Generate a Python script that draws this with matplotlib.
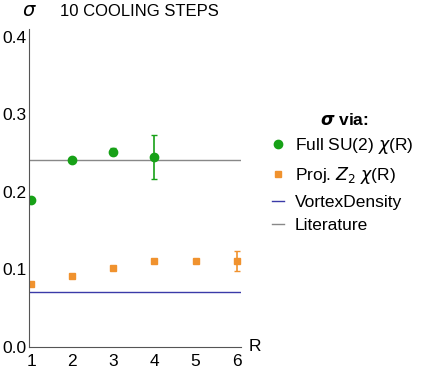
import numpy as np
import matplotlib.pyplot as plt
from matplotlib.lines import Line2D

plt.rcParams['font.family'] = ['Liberation Sans', 'DejaVu Sans']
plt.rcParams['mathtext.fontset'] = 'dejavusans'

# data
R_full = [1, 2, 3, 4]
sigma_full = [0.190, 0.241, 0.252, 0.245]
err_full = [0.002, 0.002, 0.005, 0.028]

R_proj = [1, 2, 3, 4, 5, 6]
sigma_proj = [0.081, 0.092, 0.102, 0.111, 0.111, 0.111]
err_proj = [0.001, 0.001, 0.001, 0.001, 0.003, 0.013]

vortex_density = 0.071
literature = 0.241

fig = plt.figure(figsize=(4.22, 3.73), dpi=100)
ax = fig.add_axes([0.0687, 0.0697, 0.502, 0.8525])

green = '#17a117'
orange = '#f0922e'
blue = '#3a3aa8'
gray = '#888888'

ax.errorbar(R_full, sigma_full, yerr=err_full, fmt='o', color=green, ms=6,
            elinewidth=1.2, capsize=2.5)
ax.errorbar(R_proj, sigma_proj, yerr=err_proj, fmt='s', color=orange, ms=4,
            elinewidth=1.2, capsize=2.5)
ax.axhline(vortex_density, color=blue, lw=1)
ax.axhline(literature, color=gray, lw=1)

ax.set_xlim(0.95, 6.1)
ax.set_ylim(0, 0.41)
ax.set_xticks([1, 2, 3, 4, 5, 6])
ax.set_yticks([0.0, 0.1, 0.2, 0.3, 0.4])
ax.set_yticklabels(['0.0', '0.1', '0.2', '0.3', '0.4'])
ax.tick_params(length=0, labelsize=12.5)
ax.tick_params(axis='x', pad=5)
ax.tick_params(axis='y', pad=2)
for s in ['top', 'right']:
    ax.spines[s].set_visible(False)
for s in ['left', 'bottom']:
    ax.spines[s].set_color('#555555')

fig.text(0.588, 0.070, 'R', fontsize=12.5, va='center')
fig.text(0.052, 0.968, r'$\sigma$', fontsize=14, va='center')
fig.text(0.142, 0.968, '10 COOLING STEPS', fontsize=12, va='center')

fig.text(0.817, 0.678, r'$\boldsymbol{\sigma}$ via:', fontsize=12.5,
         fontweight='bold', ha='center', va='center')

handles = [
    Line2D([], [], ls='none', marker='o', color=green, ms=6),
    Line2D([], [], ls='none', marker='s', color=orange, ms=5),
    Line2D([], [], color=blue, lw=1),
    Line2D([], [], color=gray, lw=1),
]
labels = [r'Full SU(2) $\chi$(R)', r'Proj. $Z_2$ $\chi$(R)', 'VortexDensity', 'Literature']
fig.legend(handles, labels, loc='upper left', bbox_to_anchor=(0.645, 0.635),
           frameon=False, fontsize=12.5, handlelength=0.7, handletextpad=0.6,
           labelspacing=0.5, borderpad=0, borderaxespad=0)

fig.savefig('out.png', dpi=100)
